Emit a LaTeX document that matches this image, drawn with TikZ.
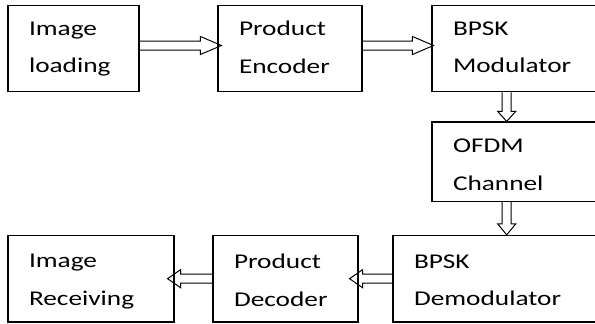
\documentclass[tikz,border=0pt]{standalone}
\usepackage{fontspec}
\setmainfont{Carlito}[FakeStretch=1.3]
\usepackage{tikz}
\usetikzlibrary{calc,positioning}
\tikzset{
  blk/.style={draw=black,line width=1.1pt,align=left,inner xsep=21pt,
              minimum height=86.5pt,text depth=40pt,
              font=\fontsize{21pt}{37.6pt}\selectfont},
  lowblk/.style={blk,text depth=35pt},
  fatline/.style={draw=black,line width=1pt,line join=miter},
}
% hollow block arrow: [head length]{from}{to}
\newcommand\fatarrow[3][14pt]{%
  \coordinate (fa-s) at (#2);
  \coordinate (fa-t) at (#3);
  \coordinate (fa-h) at ($(fa-t)!#1!(fa-s)$);
  \draw[fatline] ($(fa-s)!4.5pt!90:(fa-t)$) -- ($(fa-h)!4.5pt!90:(fa-t)$)
    -- ($(fa-h)!9pt!90:(fa-t)$) -- (fa-t) -- ($(fa-h)!9pt!-90:(fa-t)$)
    -- ($(fa-h)!4.5pt!-90:(fa-t)$) -- ($(fa-s)!4.5pt!-90:(fa-t)$);}

\begin{document}
\begin{tikzpicture}[x=1pt,y=-1pt]
  \useasboundingbox (0,0) rectangle (595,324);
  % transmitter row
  \node[blk,minimum width=131pt,text width=89pt] (load) at (73.5,48.5) {Image\\loading};
  \node[blk,minimum width=144pt,text width=102pt] (enc) at (290,48.5) {Product\\Encoder};
  \node[blk,minimum width=168pt,text width=126pt] (mod) at (516,48.5) {BPSK\\Modulator};
  % channel
  \node[blk,minimum width=168pt,minimum height=79.5pt,text width=126pt,text depth=32pt] (ofdm) at (516,161.7) {OFDM\\Channel};
  % receiver row
  \node[lowblk,minimum width=207pt,text width=165pt] (demod) at (496.5,278.7) {BPSK\\Demodulator};
  \node[lowblk,minimum width=145pt,text width=103pt] (dec) at (285.5,278.7) {Product\\Decoder};
  \node[lowblk,minimum width=166pt,text width=124pt] (recv) at (91,278.7) {Image\\Receiving};

  \fatarrow[21pt]{[yshift=3pt]load.east}{[xshift=4pt,yshift=3pt]enc.west}
  \fatarrow[21pt]{[yshift=3pt]enc.east}{[xshift=2pt,yshift=3pt]mod.west}
  \coordinate (m1) at ([xshift=-9.3pt]mod.south);
  \fatarrow[10pt]{m1}{m1 |- ofdm.north}
  \coordinate (m2) at ([xshift=-9.3pt]ofdm.south);
  \fatarrow[11pt]{m2}{m2 |- demod.north}
  \fatarrow[13pt]{demod.west}{[xshift=-9pt]dec.east}
  \fatarrow[13pt]{dec.west}{[xshift=-7pt]recv.east}
\end{tikzpicture}
\end{document}
